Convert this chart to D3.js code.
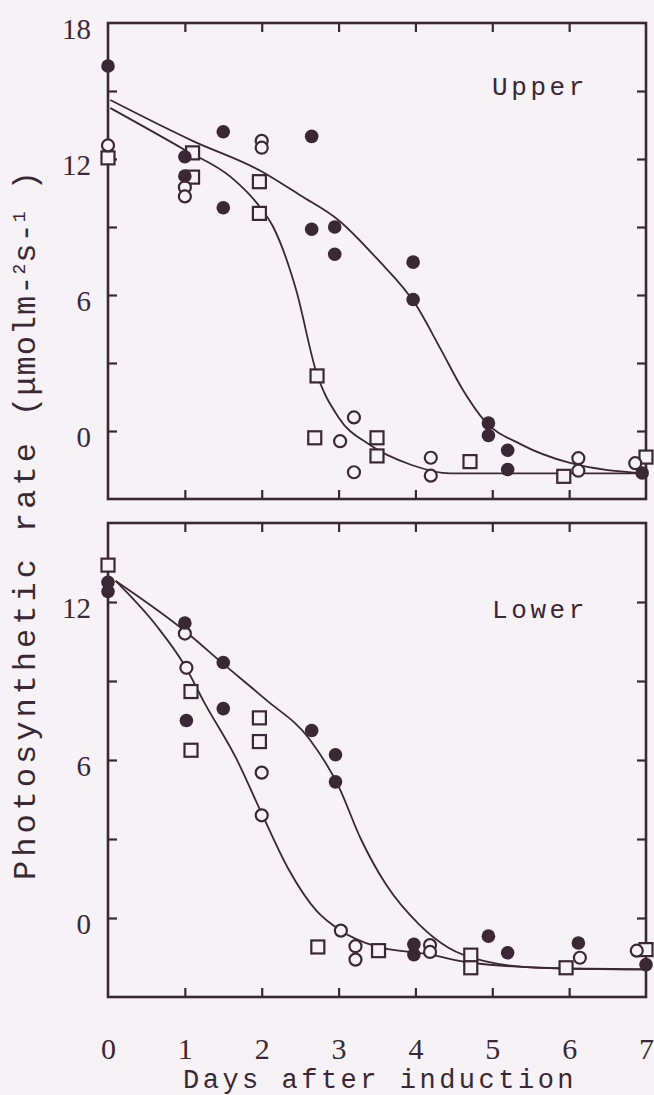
<!DOCTYPE html>
<html>
<head>
<meta charset="utf-8">
<script src="https://cdn.jsdelivr.net/npm/d3@7"></script>
<style>
  html, body { margin: 0; padding: 0; background: #f6f2f5; }
  svg { display: block; }
</style>
</head>
<body>
<div id="chart"></div>
<script>
// x tick labels (days) and y tick labels for each panel
const days = [0, 1, 2, 3, 4, 5, 6, 7];
const upperYLabels = [0, 6, 12, 18];
const lowerYLabels = [0, 6, 12];

// Upper leaves: [day, rate]
const upperFilled = [[0, 16.1], [1, 12.1], [1, 11.25], [1.5, 13.2], [1.5, 9.85], [2.65, 13.0], [2.65, 8.9],
  [2.95, 9.0], [2.95, 7.8], [3.97, 7.45], [3.97, 5.8], [4.95, 0.35], [4.95, -0.2], [5.2, -0.85], [5.2, -1.7], [6.95, -1.85]];
const upperCircle = [[0, 12.6], [1, 10.75], [1, 10.35], [2.0, 12.8], [2.0, 12.5], [3.2, 0.6], [3.02, -0.45],
  [3.2, -1.82], [4.2, -1.18], [4.2, -1.97], [6.12, -1.2], [6.12, -1.75], [6.86, -1.42]];
const upperSquare = [[0, 12.05], [1.1, 12.27], [1.1, 11.2], [1.97, 11.0], [1.97, 9.6], [2.72, 2.43], [2.69, -0.3],
  [3.5, -0.3], [3.5, -1.1], [4.71, -1.35], [5.93, -2.0], [7.0, -1.15]];
const upperCurveSlow = [[0.03, 14.6], [1.1, 12.8], [2.0, 11.45], [2.5, 10.4], [3.0, 9.3], [3.5, 7.6], [4.0, 5.6],
  [4.33, 3.6], [4.62, 1.8], [4.9, 0.45], [5.38, -0.6], [6.0, -1.4], [7.0, -1.87]];
const upperCurveFast = [[0.03, 14.25], [1.0, 12.4], [1.6, 11.2], [1.95, 10.0], [2.15, 9.0], [2.45, 6.2], [2.71, 2.6],
  [3.0, 0.6], [3.4, -0.6], [3.95, -1.5], [4.45, -1.87], [7.0, -1.87]];

// Lower leaves: [day, rate]
const lowerFilled = [[0, 12.75], [0, 12.4], [1.0, 11.2], [1.5, 9.7], [1.5, 7.95], [1.02, 7.5], [2.65, 7.12], [2.96, 6.2],
  [2.96, 5.17], [3.98, -1.0], [3.98, -1.39], [4.95, -0.69], [5.2, -1.32], [6.12, -0.95], [7.0, -1.77]];
const lowerCircle = [[1.0, 10.8], [1.02, 9.5], [2.0, 5.52], [2.0, 3.9], [3.03, -0.48], [3.22, -1.07], [3.22, -1.58],
  [4.19, -1.03], [4.19, -1.29], [6.14, -1.51], [6.88, -1.24]];
const lowerSquare = [[0, 13.4], [1.08, 8.6], [1.97, 7.6], [1.97, 6.7], [1.08, 6.37], [2.73, -1.1], [3.52, -1.24],
  [4.72, -1.41], [4.72, -1.89], [5.96, -1.89], [7.0, -1.2]];
const lowerCurveSlow = [[0.1, 12.8], [1.0, 10.9], [1.5, 9.65], [2.05, 8.3], [2.62, 6.8], [3.0, 5.0], [3.29, 3.0],
  [3.62, 1.26], [4.05, -0.25], [4.43, -1.13], [4.9, -1.64], [5.62, -1.89], [7.0, -1.95]];
const lowerCurveFast = [[0.1, 12.8], [0.63, 11.1], [1.0, 9.58], [1.25, 8.2], [1.67, 6.05], [2.0, 3.97], [2.34, 1.9],
  [2.72, 0.25], [3.03, -0.48], [3.48, -1.07], [4.19, -1.39], [4.72, -1.7], [5.95, -1.92], [7.0, -1.95]];

const ink = "#3b2835";
const bg = "#f6f2f5";
const W = 654, H = 1095;

const svg = d3.select("#chart").append("svg")
  .attr("width", W)
  .attr("height", H);

svg.append("rect").attr("width", W).attr("height", H).attr("fill", bg);

const x = d3.scaleLinear().domain([0, 7]).range([108, 646]);

function panel(top, bottom, yDomain, yLabels, name, nameY, filled, circles, squares, curves) {
  const y = d3.scaleLinear().domain(yDomain).range([bottom, top]);
  const g = svg.append("g");
  const minorY = d3.range(Math.ceil(yDomain[0] / 3) * 3, yDomain[1] + 0.01, 3)
    .filter(v => y(v) > top + 2 && y(v) < bottom - 2);
  const inner = d3.range(1, 7);

  // inward ticks on all four sides
  const axes = [
    [d3.axisBottom(x).tickValues(inner), `translate(0,${bottom})`],
    [d3.axisTop(x).tickValues(inner), `translate(0,${top})`],
    [d3.axisLeft(y).tickValues(minorY), `translate(${x(0)},0)`],
    [d3.axisRight(y).tickValues(minorY), `translate(${x(7)},0)`]
  ];
  axes.forEach(([ax, tr]) => {
    const a = g.append("g").attr("transform", tr)
      .call(ax.tickSize(-9).tickFormat(""));
    a.select(".domain").remove();
    a.selectAll("line").attr("stroke", ink).attr("stroke-width", 2.2);
  });

  g.append("rect")
    .attr("x", x(0)).attr("y", top)
    .attr("width", x(7) - x(0)).attr("height", bottom - top)
    .attr("fill", "none").attr("stroke", ink).attr("stroke-width", 2.6);

  // y labels
  const yl = g.append("g").attr("transform", `translate(${x(0)},0)`)
    .call(d3.axisLeft(y).tickValues(yLabels).tickSize(0).tickPadding(17).tickFormat(d3.format("d")));
  yl.select(".domain").remove();
  yl.selectAll("text")
    .attr("dy", "0.52em")
    .attr("fill", ink)
    .style("font-family", "'Liberation Serif', serif")
    .style("font-size", "29px");

  const line = d3.line().x(d => x(d[0])).y(d => y(d[1])).curve(d3.curveMonotoneX);
  g.selectAll(".curve").data(curves).enter().append("path")
    .attr("class", "curve")
    .attr("d", line)
    .attr("fill", "none").attr("stroke", ink).attr("stroke-width", 1.8);

  g.selectAll(".sq").data(squares).enter().append("rect")
    .attr("class", "sq")
    .attr("x", d => x(d[0]) - 6.5).attr("y", d => y(d[1]) - 6.5)
    .attr("width", 13).attr("height", 13)
    .attr("fill", bg).attr("stroke", ink).attr("stroke-width", 2.2);

  g.selectAll(".oc").data(circles).enter().append("circle")
    .attr("class", "oc")
    .attr("cx", d => x(d[0])).attr("cy", d => y(d[1])).attr("r", 6)
    .attr("fill", bg).attr("stroke", ink).attr("stroke-width", 2.2);

  g.selectAll(".fc").data(filled).enter().append("circle")
    .attr("class", "fc")
    .attr("cx", d => x(d[0])).attr("cy", d => y(d[1])).attr("r", 6.8)
    .attr("fill", ink);

  g.append("text")
    .attr("x", 492).attr("y", nameY)
    .attr("fill", ink)
    .style("font-family", "'Liberation Mono', monospace")
    .style("font-size", "26px")
    .style("letter-spacing", "3.6px")
    .text(name);

  return y;
}

panel(23, 499, [-3, 18], upperYLabels, "Upper", 95,
  upperFilled, upperCircle, upperSquare, [upperCurveSlow, upperCurveFast]);
panel(523, 997, [-3, 15], lowerYLabels, "Lower", 618,
  lowerFilled, lowerCircle, lowerSquare, [lowerCurveSlow, lowerCurveFast]);

// x tick labels
const xl = svg.append("g").attr("transform", "translate(0,997)")
  .call(d3.axisBottom(x).tickValues(days).tickSize(0).tickPadding(41).tickFormat(d3.format("d")));
xl.select(".domain").remove();
xl.selectAll("text")
  .attr("fill", ink)
  .style("font-family", "'Liberation Serif', serif")
  .style("font-size", "30px");

svg.append("text")
  .attr("x", 183).attr("y", 1088)
  .attr("fill", ink)
  .style("font-family", "'Liberation Mono', monospace")
  .style("font-size", "27px")
  .style("letter-spacing", "3.5px")
  .text("Days after induction");

const yt = svg.append("text")
  .attr("transform", "translate(35,880) rotate(-90)")
  .attr("fill", ink)
  .style("font-family", "'Liberation Mono', monospace")
  .style("font-size", "32px")
  .style("letter-spacing", "4px");
yt.append("tspan").text("Photosynthetic rate ");
yt.append("tspan").style("letter-spacing", "1px").text("(μmolm-");
yt.append("tspan").attr("dy", -10).style("font-size", "18px").style("letter-spacing", "1px").text("2");
yt.append("tspan").attr("dy", 10).style("letter-spacing", "1px").text("s-");
yt.append("tspan").attr("dy", -10).style("font-size", "18px").style("letter-spacing", "1px").text("1");
yt.append("tspan").attr("dy", 10).style("letter-spacing", "1px").text(" )");
</script>
</body>
</html>
